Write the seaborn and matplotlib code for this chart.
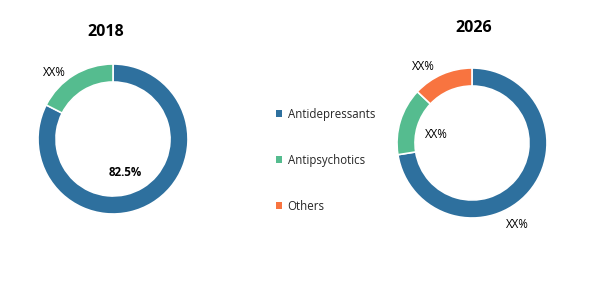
import matplotlib
matplotlib.use("Agg")
import matplotlib.pyplot as plt
from matplotlib.patches import Patch
import seaborn as sns

categories = ["Antidepressants", "Antipsychotics", "Others"]
colors = ["#2E709E", "#55BC8F", "#F87440"]
years = ["2018", "2026"]
values_2018 = [82.5, 17.5, 0.0]
values_2026 = [72.5, 14.5, 13.0]
labels_2018 = ["82.5%", "XX%", ""]
labels_2026 = ["XX%", "XX%", "XX%"]

sns.set_theme(style="white")
plt.rcParams["font.family"] = ["Open Sans", "DejaVu Sans"]

W, H = 604, 281
fig = plt.figure(figsize=(W / 100, H / 100), dpi=100)
ax = fig.add_axes([0, 0, 1, 1])
ax.set_xlim(0, W)
ax.set_ylim(0, H)
ax.axis("off")

R = 75
ring = 18

def donut(vals, center, title, title_xy, labels, label_pos, bold_idx=None):
    v = [x for x in vals if x > 0]
    c = [colors[i] for i, x in enumerate(vals) if x > 0]
    ax.pie(v, colors=c, startangle=90, counterclock=False, center=center,
           radius=R, wedgeprops=dict(width=ring, edgecolor="white", linewidth=1.2),
           frame=True)
    ax.text(title_xy[0], title_xy[1], title, ha="center", va="center",
            fontsize=11.5, fontweight="bold", color="black")
    for i, (lab, pos) in enumerate(zip(labels, label_pos)):
        if not lab:
            continue
        ax.text(pos[0], pos[1], lab, ha="center", va="center", fontsize=8.3,
                fontweight="bold" if i == bold_idx else "normal", color="black")

donut(values_2018, (113, H - 139), years[0], (106, H - 32), labels_2018,
      [(125, H - 172), (54, H - 72), None], bold_idx=0)
donut(values_2026, (472, H - 143), years[1], (474, H - 28), labels_2026,
      [(517, H - 225), (436, H - 134), (423, H - 66)])

ax.set_xlim(0, W)
ax.set_ylim(0, H)
ax.set_aspect("auto")

handles = [Patch(facecolor=col, edgecolor="none") for col in colors]
leg = fig.legend(handles, categories, loc="upper left",
                 bbox_to_anchor=(271 / W, 1 - 103 / H), frameon=False,
                 fontsize=8.3, handlelength=0.55, handleheight=0.55,
                 handletextpad=0.5, labelspacing=2.88, borderaxespad=0)

fig.savefig("out.png", dpi=100, facecolor="white")
